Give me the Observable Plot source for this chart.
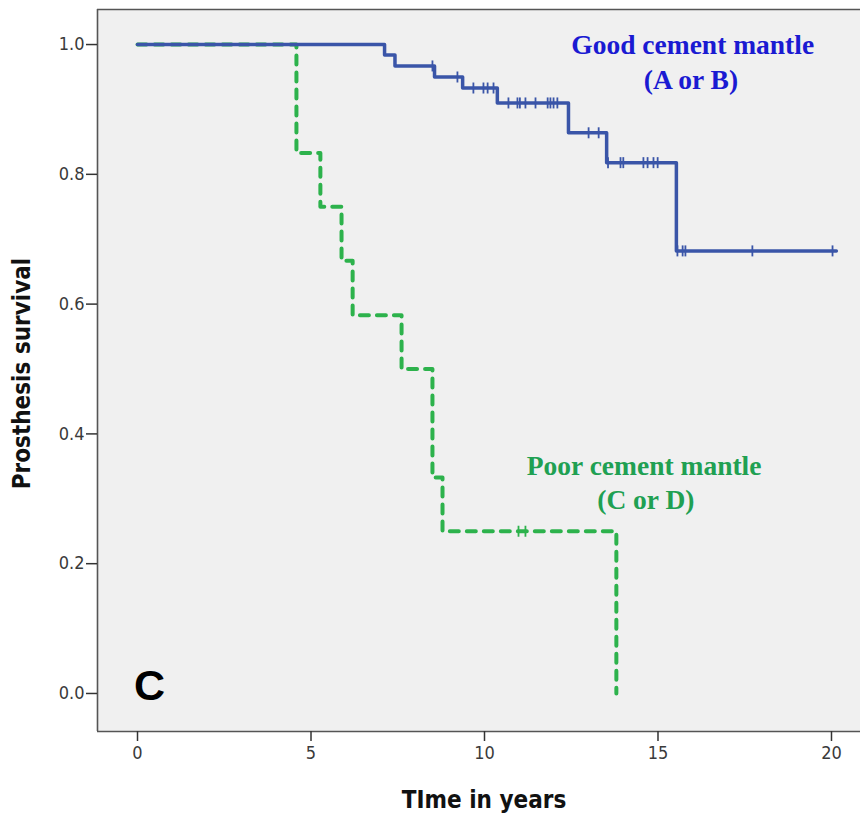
<!DOCTYPE html>
<html>
<head>
<meta charset="utf-8">
<script src="https://cdn.jsdelivr.net/npm/d3@7"></script>
<script src="https://cdn.jsdelivr.net/npm/@observablehq/plot@0.6"></script>
<style>
  html, body { margin: 0; padding: 0; background: #ffffff; }
  #chart svg { display: block; }
  .axtitle text { font-stretch: condensed; }
</style>
</head>
<body>
<div id="chart"></div>
<script>
// ---- Data ----
// Good cement mantle (A or B): step points (time in years, survival)
const goodTimes = [0, 7.12, 7.42, 8.56, 9.37, 10.37, 12.42, 13.52, 15.53, 20.14];
const goodSurv  = [1.0, 0.984, 0.967, 0.950, 0.933, 0.910, 0.864, 0.818, 0.682, 0.682];
// Good: censored observations
const goodCensorTimes = [8.50, 9.22, 9.68, 9.97, 10.09, 10.26, 10.69, 10.95, 11.02, 11.18, 11.47, 11.82, 11.90, 11.99, 12.10, 13.00, 13.29, 13.56, 13.92, 14.00, 14.58, 14.70, 14.87, 14.99, 15.56, 15.71, 15.79, 17.72, 20.03];
const goodCensorSurv  = [0.967, 0.950, 0.933, 0.933, 0.933, 0.933, 0.910, 0.910, 0.910, 0.910, 0.910, 0.910, 0.910, 0.910, 0.910, 0.864, 0.864, 0.818, 0.818, 0.818, 0.818, 0.818, 0.818, 0.818, 0.682, 0.682, 0.682, 0.682, 0.682];

// Poor cement mantle (C or D)
const poorTimes = [0, 4.58, 5.27, 5.88, 6.20, 7.61, 8.50, 8.79, 13.80, 13.80];
const poorSurv  = [1.0, 0.833, 0.750, 0.667, 0.583, 0.500, 0.333, 0.250, 0.0, 0.0];
const poorCensorTimes = [10.98, 11.18];
const poorCensorSurv  = [0.250, 0.250];

// Axis ticks and labels
const xTicks = [0, 5, 10, 15, 20];
const yTicks = [0.0, 0.2, 0.4, 0.6, 0.8, 1.0];
const xDomain = [-1.153, 20.836];
const yDomain = [-0.0586, 1.054];

const groupLabels = [
  {lines: ["Good cement mantle", "(A or B)"]},
  {lines: ["Poor cement mantle", "(C or D)"]}
];
const panelLetter = ["C"];
const xTitle = ["TIme in years"];
const yTitle = ["Prosthesis survival"];

// ---- Build tables ----
const good = goodTimes.map((t, i) => ({t, s: goodSurv[i]}));
const poor = poorTimes.map((t, i) => ({t, s: poorSurv[i]}));
const goodC = goodCensorTimes.map((t, i) => ({t, s: goodCensorSurv[i]}));
const poorC = poorCensorTimes.map((t, i) => ({t, s: poorCensorSurv[i]}));

const blue = "#3a55a8";
const green = "#2db24c";

// vertical tick symbol for censor marks
const censorSymbol = {
  draw(context, size) {
    const r = Math.sqrt(size / Math.PI);
    context.moveTo(0, -r);
    context.lineTo(0, r);
  }
};

const serif = "'Liberation Serif', 'Times New Roman', serif";
const sans = "'Liberation Sans', Arial, sans-serif";
const narrow = "'Liberation Sans Narrow', 'Arial Narrow', 'DejaVu Sans Condensed', 'Liberation Sans', sans-serif";
const cond = "'DejaVu Sans Condensed', 'DejaVu Sans', sans-serif";

const chart = Plot.plot({
  width: 860,
  height: 818,
  marginLeft: 97,
  marginTop: 9,
  marginRight: 0,
  marginBottom: 87,
  style: {background: "#ffffff", fontFamily: narrow, fontSize: "18px", color: "#3a3a3a"},
  x: {domain: xDomain, ticks: xTicks, label: null},
  y: {domain: yDomain, ticks: yTicks, label: null, tickFormat: d3.format(".1f")},
  marks: [
    Plot.frame({fill: "#f0f0f0", stroke: null}),
    // frame borders (left, top, bottom)
    Plot.ruleX([xDomain[0]], {stroke: "#555", strokeWidth: 1.6}),
    Plot.ruleY([yDomain[1]], {stroke: "#555", strokeWidth: 1.6}),
    Plot.ruleY([yDomain[0]], {stroke: "#555", strokeWidth: 1.6}),
    Plot.axisX({ticks: xTicks, tickSize: 10, tickPadding: 5, fontSize: 18, fontFamily: narrow, stroke: "#333", strokeWidth: 1.5, label: null}),
    Plot.axisY({ticks: yTicks, tickSize: 11, tickPadding: 2, fontSize: 18, fontFamily: narrow, stroke: "#333", strokeWidth: 1.5, tickFormat: d3.format(".1f"), label: null}),
    // Poor curve (dashed green)
    Plot.line(poor, {x: "t", y: "s", curve: "step-after", stroke: green, strokeWidth: 4, strokeDasharray: "9,8"}),
    Plot.dot(poorC, {x: "t", y: "s", symbol: censorSymbol, r: 5.5, stroke: green, fill: "none", strokeWidth: 1.8}),
    // Good curve (solid blue)
    Plot.line(good, {x: "t", y: "s", curve: "step-after", stroke: blue, strokeWidth: 3.5}),
    Plot.dot(goodC, {x: "t", y: "s", symbol: censorSymbol, r: 5.5, stroke: blue, fill: "none", strokeWidth: 1.8}),
    // Group labels
    Plot.text(groupLabels.slice(0, 1), {x: 16.0, y: 0.985, text: d => d.lines[0], fill: "#1a1ad2", fontFamily: serif, fontWeight: "bold", fontSize: 27.5, textAnchor: "middle", lineAnchor: "bottom"}),
    Plot.text(groupLabels.slice(0, 1), {x: 15.95, y: 0.932, text: d => d.lines[1], fill: "#1a1ad2", fontFamily: serif, fontWeight: "bold", fontSize: 27.5, textAnchor: "middle", lineAnchor: "bottom"}),
    Plot.text(groupLabels.slice(1, 2), {x: 14.6, y: 0.336, text: d => d.lines[0], fill: "#20a052", fontFamily: serif, fontWeight: "bold", fontSize: 27.5, textAnchor: "middle", lineAnchor: "bottom"}),
    Plot.text(groupLabels.slice(1, 2), {x: 14.65, y: 0.285, text: d => d.lines[1], fill: "#20a052", fontFamily: serif, fontWeight: "bold", fontSize: 27.5, textAnchor: "middle", lineAnchor: "bottom"}),
    // Panel letter
    Plot.text(panelLetter, {x: 0.35, y: 0.0, text: d => d, fill: "#000", fontFamily: sans, fontWeight: "bold", fontSize: 43, textAnchor: "middle", lineAnchor: "bottom", dy: 7}),
    // Axis titles
    Plot.text(xTitle, {frameAnchor: "bottom", text: d => d, dx: 5, dy: 76, fill: "#111", fontFamily: cond, fontWeight: "bold", fontSize: 24, textAnchor: "middle", lineAnchor: "bottom", className: "axtitle"}),
    Plot.text(yTitle, {frameAnchor: "left", text: d => d, dx: -75, dy: 3, rotate: -90, fill: "#111", fontFamily: cond, fontWeight: "bold", fontSize: 24, textAnchor: "middle", lineAnchor: "middle", className: "axtitle"})
  ]
});

document.getElementById("chart").appendChild(chart);
</script>
</body>
</html>
